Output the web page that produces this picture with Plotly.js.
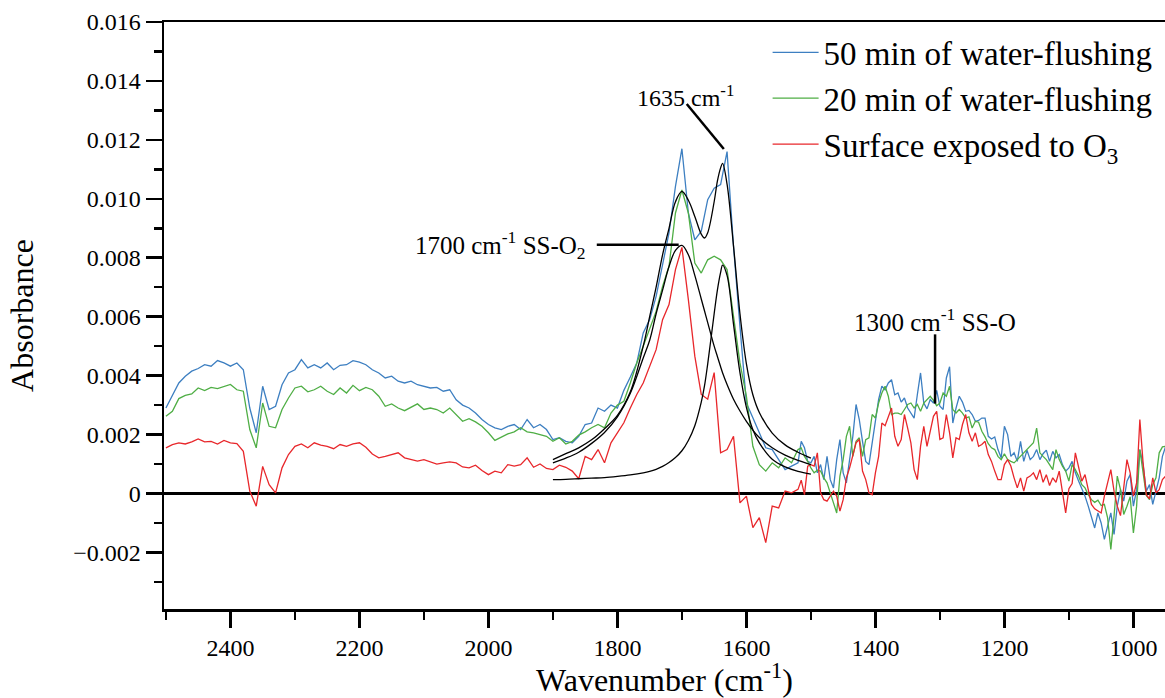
<!DOCTYPE html>
<html><head><meta charset="utf-8">
<script src="https://cdn.plot.ly/plotly-3.0.1.min.js"></script>
<style>html,body{margin:0;padding:0;background:#fff;} #chart{width:1165px;height:698px;}</style>
</head><body><div id="chart"></div>
<script>
// Wavenumber grid (cm^-1): 10 cm^-1 steps down to 1520, 5 cm^-1 steps below
const wavenumber = [
2500,2490,2480,2470,2460,2450,2440,2430,2420,2410,
2400,2390,2380,2370,2360,2350,2340,2330,2320,2310,
2300,2290,2280,2270,2260,2250,2240,2230,2220,2210,
2200,2190,2180,2170,2160,2150,2140,2130,2120,2110,
2100,2090,2080,2070,2060,2050,2040,2030,2020,2010,
2000,1990,1980,1970,1960,1950,1940,1930,1920,1910,
1900,1890,1880,1870,1860,1850,1840,1830,1820,1810,
1800,1790,1780,1770,1760,1750,1740,1730,1720,1710,
1700,1690,1680,1670,1660,1650,1640,1630,1620,1610,
1600,1590,1580,1570,1560,1550,1540,1530,1520,
1515,1510,1505,1500,1495,1490,1485,1480,1475,1470,
1465,1460,1455,1450,1445,1440,1435,1430,1425,1420,
1415,1410,1405,1400,1395,1390,1385,1380,1375,1370,
1365,1360,1355,1350,1345,1340,1335,1330,1325,1320,
1315,1310,1305,1300,1295,1290,1285,1280,1275,1270,
1265,1260,1255,1250,1245,1240,1235,1230,1225,1220,
1215,1210,1205,1200,1195,1190,1185,1180,1175,1170,
1165,1160,1155,1150,1145,1140,1135,1130,1125,1120,
1115,1110,1105,1100,1095,1090,1085,1080,1075,1070,
1065,1060,1055,1050,1045,1040,1035,1030,1025,1020,
1015,1010,1005,1000,995,990,985,980,975,970,
965,960,955,950];

// Absorbance values, in units of 10^-3
const flush50 = [
2.90,3.30,3.75,3.98,4.15,4.24,4.37,4.32,4.51,4.43,
4.32,4.43,4.20,2.90,2.06,3.64,2.85,2.96,3.69,4.09,
4.20,4.54,4.26,4.37,4.26,4.43,4.20,4.35,4.37,4.51,
4.46,4.37,4.20,4.09,3.92,3.98,3.81,3.75,3.81,3.69,
3.64,3.58,3.60,3.47,3.52,3.18,3.00,2.90,2.73,2.51,
2.34,2.23,2.17,2.28,2.34,2.17,2.51,2.23,2.34,2.17,
1.83,1.89,1.77,1.72,1.94,2.34,2.39,2.90,2.79,3.00,
2.90,3.50,3.95,4.43,5.45,5.90,6.69,7.76,8.84,10.42,
11.70,9.52,8.61,8.90,9.97,10.36,10.48,11.60,8.39,5.67,
3.07,2.57,2.06,1.55,1.49,1.15,0.81,0.93,1.04,
1.77,1.55,1.09,1.04,1.26,0.70,0.98,0.47,1.26,0.47,
0.19,1.15,1.83,0.70,0.36,1.09,1.94,3.02,2.51,1.77,
1.09,0.98,1.72,2.39,3.19,3.64,3.52,3.75,3.86,3.35,
3.41,3.10,3.24,2.90,2.73,2.56,3.35,4.09,3.07,2.87,
3.19,3.07,3.50,2.96,2.85,3.92,4.30,2.39,2.90,3.30,
3.10,2.79,2.82,2.68,2.45,2.48,2.56,2.56,1.94,1.85,
1.92,1.49,1.21,2.28,2.00,1.26,1.38,1.09,1.77,1.09,
1.47,1.15,1.26,1.49,1.15,1.35,1.47,1.09,1.43,1.21,
1.32,0.98,0.76,0.87,1.09,0.70,0.42,0.19,-0.09,-0.43,
-0.77,-1.17,-0.66,-1.00,-1.56,-1.05,-0.66,-1.39,-0.43,0.13,
-0.26,0.42,0.64,-0.43,0.13,1.49,0.98,0.08,0.30,-0.37,
0.08,0.53,1.26,1.60];

const flush20 = [
2.62,2.79,3.22,3.33,3.38,3.58,3.49,3.60,3.56,3.64,
3.70,3.52,3.47,2.17,1.55,3.07,2.28,2.23,2.85,3.24,
3.58,3.64,3.45,3.52,3.64,3.47,3.36,3.58,3.41,3.67,
3.49,3.60,3.52,3.30,2.96,3.04,2.90,2.81,2.93,3.04,
2.85,2.90,2.85,2.73,2.90,2.68,2.45,2.54,2.43,2.28,
2.06,1.80,1.91,2.02,2.09,2.23,2.09,2.06,2.00,1.94,
1.77,1.89,1.68,1.77,1.98,2.09,2.23,2.34,2.23,2.73,
3.00,3.13,3.75,4.43,5.00,5.56,6.18,7.03,7.71,9.52,
10.30,9.52,7.82,7.48,7.93,8.05,7.93,7.60,6.07,4.43,
3.30,1.60,0.98,0.76,1.04,0.87,1.21,1.04,1.49,
1.55,1.26,1.09,0.87,0.70,0.79,0.76,0.53,0.36,0.02,
-0.34,-0.66,0.59,1.15,1.94,2.28,1.26,1.77,1.89,1.26,
1.83,1.89,2.68,2.56,3.07,3.41,3.64,3.30,2.68,2.73,
2.73,2.68,2.85,3.02,3.07,2.90,3.02,2.79,3.07,3.19,
3.30,3.16,2.98,3.07,3.41,3.30,3.64,2.85,2.73,2.85,
2.73,2.56,2.60,2.22,2.45,2.42,2.11,1.92,1.69,1.55,
1.49,1.26,1.15,1.35,1.15,1.09,1.04,1.15,1.26,1.38,
1.49,1.60,1.72,2.22,1.38,1.26,1.15,0.98,0.81,1.49,
1.15,0.93,0.76,0.42,0.98,0.81,0.59,0.30,0.19,-0.04,
-0.21,-0.30,-0.23,-0.41,-0.37,-0.83,-1.90,-0.77,0.59,0.13,
-0.71,-0.43,-0.11,-1.34,-0.43,1.49,0.70,-0.07,-0.21,0.30,
0.53,1.38,1.58,1.60];

const exposedO3 = [
1.55,1.66,1.72,1.68,1.75,1.85,1.75,1.77,1.68,1.80,
1.72,1.69,1.43,0.08,-0.43,0.92,0.30,0.02,0.87,1.32,
1.60,1.68,1.55,1.72,1.64,1.60,1.52,1.66,1.60,1.68,
1.72,1.57,1.34,1.21,1.26,1.32,1.38,1.21,1.15,1.10,
1.15,1.07,1.00,1.04,1.07,1.04,0.90,0.87,0.96,0.78,
0.64,0.76,0.70,0.98,0.93,0.98,1.21,0.89,1.00,0.85,
0.81,0.96,0.89,0.76,0.50,1.26,1.15,1.49,1.04,1.72,
2.06,2.40,2.90,3.36,3.75,4.29,4.88,5.90,6.41,7.60,
8.35,6.58,4.66,3.36,3.20,4.10,1.38,1.49,1.94,-0.32,
-0.09,-1.16,-0.82,-1.67,-0.43,-0.49,0.08,0.02,0.14,
0.45,-0.04,0.93,0.98,0.93,1.38,0.02,-0.21,-0.26,-0.09,
0.08,-0.09,-0.60,-0.21,0.53,0.87,1.26,1.72,1.83,0.76,
0.47,0.02,-0.04,0.70,1.26,2.39,2.30,2.62,2.90,1.94,
1.60,1.83,2.68,2.22,1.72,0.81,0.47,1.60,2.28,1.60,
2.11,2.62,2.79,1.83,1.89,2.68,2.06,1.21,1.89,1.83,
2.34,2.68,2.06,1.77,2.06,1.60,1.66,1.77,1.32,1.09,
0.76,0.47,0.47,0.98,1.15,0.93,0.53,0.19,0.53,0.08,
0.53,0.59,0.70,0.47,0.81,0.38,0.64,0.27,0.53,0.38,
0.76,0.02,-0.66,0.16,0.34,1.38,0.87,0.42,0.64,0.08,
-0.37,-0.52,-0.60,-0.66,-0.09,0.36,0.81,0.08,-0.43,-0.75,
0.25,1.15,0.70,-0.09,0.36,2.51,1.04,-0.04,-0.18,0.53,
0.02,0.13,0.47,0.59];

// Peak-fit curves (10^-3)
const fitWavenumber = [1900,1880,1860,1840,1820,1800,1780,1760,1750,1740,1730,1720,1710,1700,1690,1680,1670,1665,1660,1650,1645,1640,1637,1630,1620,1610,1600,1590,1580,1560,1540,1520,1500];
const fitSum  = [1.15,1.35,1.55,1.82,2.20,2.65,3.45,5.00,6.00,7.00,8.10,9.00,9.90,10.25,9.95,9.40,8.80,8.67,8.85,9.90,10.60,11.05,11.20,10.50,8.40,6.10,4.40,3.35,2.75,2.05,1.65,1.40,1.20];
const fit1700 = [1.04,1.20,1.40,1.70,2.07,2.60,3.40,4.60,5.20,6.10,6.90,7.70,8.25,8.42,8.10,7.40,6.60,6.20,5.80,5.00,4.65,4.30,4.10,3.70,3.20,2.80,2.45,2.15,1.90,1.55,1.30,1.12,0.98];
const fit1635 = [0.47,0.48,0.50,0.52,0.54,0.58,0.63,0.70,0.75,0.82,0.92,1.05,1.22,1.45,1.80,2.30,3.10,3.65,4.40,6.10,6.90,7.50,7.75,7.40,5.75,4.10,2.92,2.16,1.72,1.16,0.90,0.75,0.66];

const seriesNames = ['50 min of water-flushing', '20 min of water-flushing', 'Surface exposed to O<sub>3</sub>'];
const seriesColors = ['#3D7FC1', '#4FAE45', '#E8272B'];
const yTickVals = [-0.002, 0, 0.002, 0.004, 0.006, 0.008, 0.010, 0.012, 0.014, 0.016];
const yTickText = ['\u22120.002', '0', '0.002', '0.004', '0.006', '0.008', '0.010', '0.012', '0.014', '0.016'];
const xTickVals = [2400, 2200, 2000, 1800, 1600, 1400, 1200, 1000];

const toAbs = arr => arr.map(v => v / 1000);
const FONT = '"Liberation Serif", "Times New Roman", Times, serif';

const spectra = [flush50, flush20, exposedO3].map((vals, i) => ({
  type: 'scatter', mode: 'lines', x: wavenumber, y: toAbs(vals),
  name: seriesNames[i], line: {color: seriesColors[i], width: 1.3}
}));
const fits = [fitSum, fit1700, fit1635].map(vals => ({
  type: 'scatter', mode: 'lines', x: fitWavenumber, y: toAbs(vals),
  showlegend: false, hoverinfo: 'skip',
  line: {color: '#000', width: 1.3, shape: 'spline', smoothing: 1}
}));

const lineStyle = {color: '#000', width: 2.5};
const layout = {
  width: 1165, height: 698,
  margin: {l: 164, r: 0, t: 22, b: 89},
  paper_bgcolor: '#fff', plot_bgcolor: '#fff',
  font: {family: FONT, color: '#000', size: 24},
  showlegend: true,
  legend: {x: 0.603, xanchor: 'left', y: 0.996, yanchor: 'top', bgcolor: 'rgba(0,0,0,0)',
           itemwidth: 46, font: {family: FONT, size: 33, color: '#000'}, tracegroupgap: 0},
  xaxis: {
    range: [2503, 951], autorange: false,
    tickmode: 'array', tickvals: xTickVals,
    ticks: 'outside', ticklen: 16, tickwidth: 2.5, tickcolor: '#000',
    minor: {tickmode: 'linear', tick0: 0, dtick: 100, ticks: 'outside', ticklen: 8, tickwidth: 2.5, tickcolor: '#000'},
    showline: true, linecolor: '#000', linewidth: 2.5, mirror: true,
    showgrid: false, zeroline: false,
    tickfont: {family: FONT, size: 24, color: '#000'},
    title: {text: 'Wavenumber (cm<sup>-1</sup>)', font: {family: FONT, size: 32, color: '#000'}, standoff: 12}
  },
  yaxis: {
    range: [-0.00392, 0.016], autorange: false,
    tickmode: 'array', tickvals: yTickVals, ticktext: yTickText,
    ticks: 'outside', ticklen: 16, tickwidth: 2.5, tickcolor: '#000',
    minor: {tickmode: 'linear', tick0: 0, dtick: 0.001, ticks: 'outside', ticklen: 8, tickwidth: 2.5, tickcolor: '#000'},
    showline: true, linecolor: '#000', linewidth: 2.5, mirror: false,
    showgrid: false, zeroline: true, zerolinecolor: '#000', zerolinewidth: 2.5,
    tickfont: {family: FONT, size: 24, color: '#000'},
    title: {text: 'Absorbance', font: {family: FONT, size: 32, color: '#000'}, standoff: 30}
  },
  shapes: [
    {type: 'line', xref: 'x', yref: 'y', x0: 1692.5, y0: 0.01322, x1: 1635, y1: 0.01169, line: lineStyle},
    {type: 'line', xref: 'x', yref: 'y', x0: 1832, y0: 0.00844, x1: 1705, y1: 0.00844, line: lineStyle},
    {type: 'line', xref: 'x', yref: 'y', x0: 1307.5, y0: 0.0054, x1: 1307.5, y1: 0.00305, line: lineStyle}
  ],
  annotations: [
    {x: 1694, y: 0.01349, xref: 'x', yref: 'y', text: '1635 cm<sup>-1</sup>', showarrow: false,
     xanchor: 'center', yanchor: 'middle', font: {family: FONT, size: 24, color: '#000'}},
    {x: 1846, y: 0.00844, xref: 'x', yref: 'y', text: '1700 cm<sup>-1</sup> SS-O<sub>2</sub>', showarrow: false,
     xanchor: 'right', yanchor: 'middle', font: {family: FONT, size: 25, color: '#000'}},
    {x: 1307, y: 0.0059, xref: 'x', yref: 'y', text: '1300 cm<sup>-1</sup> SS-O', showarrow: false,
     xanchor: 'center', yanchor: 'middle', font: {family: FONT, size: 25, color: '#000'}}
  ]
};

Plotly.newPlot('chart', spectra.concat(fits), layout, {staticPlot: true, displayModeBar: false});
</script>
</body></html>
